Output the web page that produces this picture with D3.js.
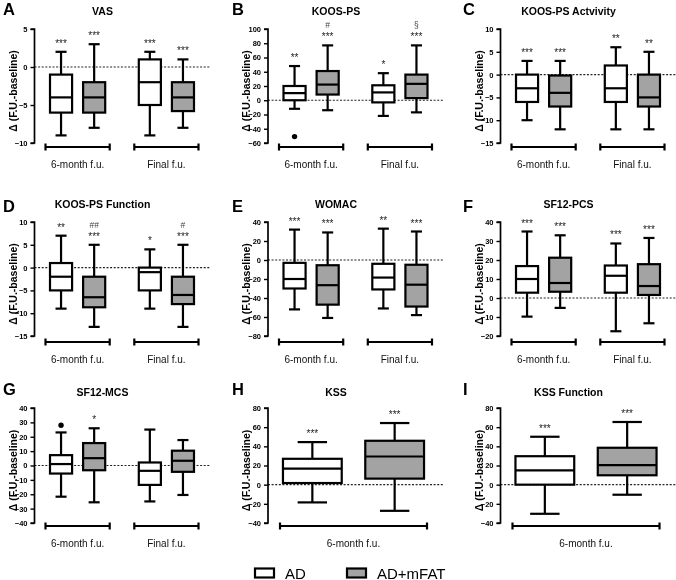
<!DOCTYPE html>
<html>
<head>
<meta charset="utf-8">
<script src="https://cdnjs.cloudflare.com/ajax/libs/d3/7.8.5/d3.min.js"></script>
<style>
  html, body { margin: 0; padding: 0; background: #fff; }
  svg { display: block; font-family: "Liberation Sans", Arial, sans-serif; filter: grayscale(1); }
</style>
</head>
<body>
<svg id="chart" width="676" height="580"></svg>
<script>
// ---------------- DATA ----------------
const series = ["AD", "AD+mFAT"];
const groupsTwo = ["6-month f.u.", "Final f.u."];
const groupsOne = ["6-month f.u."];
// box order: [6m AD, 6m AD+mFAT, Final AD, Final AD+mFAT]; each [min, q1, median, q3, max]

const vasTicks = [5, 0, -5, -10];
const vasBoxes = [[-9, -6, -4, -1, 2], [-8, -6, -4, -2, 3], [-9, -5, -2, 1, 2], [-8, -5.8, -4, -2, 1]];
const vasStars = ["***", "***", "***", "***"];
const vasMarks = ["", "", "", ""];
const vasOutliers = [null, null, null, null];

const koosPsTicks = [100, 80, 60, 40, 20, 0, -20, -40, -60];
const koosPsBoxes = [[-12, 0, 10, 20, 48], [-14, 8, 22, 41, 77], [-22, -3, 11, 21, 38], [-17, 3, 23, 36, 77]];
const koosPsStars = ["**", "***", "*", "***"];
const koosPsMarks = ["", "#", "", "§"];
const koosPsOutliers = [-51, null, null, null];

const koosActTicks = [10, 5, 0, -5, -10, -15];
const koosActBoxes = [[-10, -6, -3, 0, 3], [-12, -7, -4, -0.2, 3], [-12, -6, -3, 2, 6], [-12, -7, -5, 0, 5]];
const koosActStars = ["***", "***", "**", "**"];
const koosActMarks = ["", "", "", ""];
const koosActOutliers = [null, null, null, null];

const koosFunTicks = [10, 5, 0, -5, -10, -15];
const koosFunBoxes = [[-9, -5, -2, 1, 7], [-13, -8.7, -6.5, -2, 5], [-9, -5, -1, 0, 4], [-13, -8, -6, -2, 5]];
const koosFunStars = ["**", "***", "*", "***"];
const koosFunMarks = ["", "##", "", "#"];
const koosFunOutliers = [null, null, null, null];

const womacTicks = [40, 20, 0, -20, -40, -60, -80];
const womacBoxes = [[-52, -30, -20, -3, 32], [-61, -47, -26.5, -5.5, 29], [-51, -31, -18.5, -4, 33], [-58, -49, -26, -5, 30]];
const womacStars = ["***", "***", "**", "***"];
const womacMarks = ["", "", "", ""];
const womacOutliers = [null, null, null, null];

const pcsTicks = [40, 30, 20, 10, 0, -10, -20];
const pcsBoxes = [[-9.8, 2.8, 10, 16.8, 35], [-5.2, 3.3, 7.9, 21.2, 33], [-17.5, 2.8, 11.7, 17.1, 28.7], [-13.3, 1.6, 6.3, 17.8, 31.6]];
const pcsStars = ["***", "***", "***", "***"];
const pcsMarks = ["", "", "", ""];
const pcsOutliers = [null, null, null, null];

const mcsTicks = [40, 30, 20, 10, 0, -10, -20, -30, -40];
const mcsBoxes = [[-21.7, -5.6, 1, 7.2, 23], [-25.6, -3.3, 5.1, 15.6, 25.9], [-25, -13.5, -3.7, 2.1, 25], [-20.5, -4.4, 3.3, 10.3, 17.7]];
const mcsStars = ["", "*", "", ""];
const mcsMarks = ["", "", "", ""];
const mcsOutliers = [28, null, null, null];

const kssTicks = [80, 60, 40, 20, 0, -20, -40];
const kssBoxes = [[-18.5, 1.7, 16.8, 27, 44.4], [-27.3, 6.3, 29.4, 45.8, 64.3]];
const kssStars = ["***", "***"];
const kssMarks = ["", ""];
const kssOutliers = [null, null];

const kssFunTicks = [80, 60, 40, 20, 0, -20, -40];
const kssFunBoxes = [[-30.4, 0, 15, 29.7, 50], [-10.5, 9.8, 20.3, 38.5, 65.4]];
const kssFunStars = ["***", "***"];
const kssFunMarks = ["", ""];
const kssFunOutliers = [null, null];

const letters = ["A", "B", "C", "D", "E", "F", "G", "H", "I"];
const titles = ["VAS", "KOOS-PS", "KOOS-PS Actvivity", "KOOS-PS Function", "WOMAC", "SF12-PCS", "SF12-MCS", "KSS", "KSS Function"];
const yLabel = "Δ (F.U.-baseline)";

// ---------------- LAYOUT ----------------
const panels = [
  { boxes: vasBoxes, ticks: vasTicks, stars: vasStars, marks: vasMarks, outliers: vasOutliers, groups: groupsTwo },
  { boxes: koosPsBoxes, ticks: koosPsTicks, stars: koosPsStars, marks: koosPsMarks, outliers: koosPsOutliers, groups: groupsTwo },
  { boxes: koosActBoxes, ticks: koosActTicks, stars: koosActStars, marks: koosActMarks, outliers: koosActOutliers, groups: groupsTwo },
  { boxes: koosFunBoxes, ticks: koosFunTicks, stars: koosFunStars, marks: koosFunMarks, outliers: koosFunOutliers, groups: groupsTwo },
  { boxes: womacBoxes, ticks: womacTicks, stars: womacStars, marks: womacMarks, outliers: womacOutliers, groups: groupsTwo },
  { boxes: pcsBoxes, ticks: pcsTicks, stars: pcsStars, marks: pcsMarks, outliers: pcsOutliers, groups: groupsTwo },
  { boxes: mcsBoxes, ticks: mcsTicks, stars: mcsStars, marks: mcsMarks, outliers: mcsOutliers, groups: groupsTwo },
  { boxes: kssBoxes, ticks: kssTicks, stars: kssStars, marks: kssMarks, outliers: kssOutliers, groups: groupsOne },
  { boxes: kssFunBoxes, ticks: kssFunTicks, stars: kssFunStars, marks: kssFunMarks, outliers: kssFunOutliers, groups: groupsOne }
];

const colAxisX = [34.5, 268, 500.5];
const colLetterX = [3, 232, 463];
const rowY = [[29, 143], [222, 336], [408, 523]];
const rowBracketY = [147, 342, 526];
const rowTitleY = [15, 208, 396];
const rowLetterY = [15, 212, 395];
const GRAY = "#a3a3a3";
const INK = "#000";

const svg = d3.select("#chart");

panels.forEach((p, i) => {
  const col = i % 3, row = Math.floor(i / 3);
  const ax = colAxisX[col];
  const [yTop, yBot] = rowY[row];
  const g = svg.append("g");

  const y = d3.scaleLinear().domain([d3.min(p.ticks), d3.max(p.ticks)]).range([yBot, yTop]);

  const two = p.groups.length === 2;
  const xg = d3.scaleBand().domain(p.groups)
    .range(two ? [ax + 11, ax + 164] : [ax + 12, ax + 159])
    .paddingInner(two ? 0.277 : 0).paddingOuter(0);
  const xs = d3.scaleBand().domain(series).range([0, xg.bandwidth()])
    .paddingInner(two ? 0.333 : 0.286).paddingOuter(two ? 0.136 : 0.036);

  // zero line (behind boxes)
  g.append("line")
    .attr("x1", ax).attr("x2", ax + 175)
    .attr("y1", y(0)).attr("y2", y(0))
    .attr("stroke", "#222").attr("stroke-width", 1.1).attr("stroke-dasharray", "2,1.6");

  // y axis
  const axis = d3.axisLeft(y).tickValues(p.ticks).tickSize(4).tickPadding(3).tickFormat(d3.format("d"));
  const axG = g.append("g").attr("transform", `translate(${ax},0)`).call(axis);
  axG.select(".domain").attr("stroke", INK).attr("stroke-width", 1.7).attr("d", `M-4,${yTop}H0V${yBot}H-4`);
  axG.selectAll(".tick line").attr("stroke", INK).attr("stroke-width", 1.4);
  axG.selectAll(".tick text").attr("font-size", 7.5).attr("font-weight", "bold").attr("fill", INK)
    .attr("font-family", "'Liberation Sans', Arial, sans-serif");

  // y label
  g.append("text")
    .attr("transform", `translate(${ax - 18},${(yTop + yBot) / 2 + 5}) rotate(-90)`)
    .attr("text-anchor", "middle")
    .attr("font-size", 10.5).attr("font-weight", "bold").attr("fill", INK)
    .text(yLabel);

  // title & letter
  g.append("text").attr("x", ax + 68).attr("y", rowTitleY[row])
    .attr("text-anchor", "middle").attr("font-size", 10.5).attr("font-weight", "bold").attr("fill", INK)
    .text(titles[i]);
  g.append("text").attr("x", colLetterX[col]).attr("y", rowLetterY[row])
    .attr("font-size", 16.5).attr("font-weight", "bold").attr("fill", INK)
    .text(letters[i]);

  // boxes
  const items = [];
  p.groups.forEach((grp, gi) => {
    series.forEach((s, si) => {
      const k = gi * 2 + si;
      items.push({ grp, s, si, stats: p.boxes[k], star: p.stars[k], mark: p.marks[k], out: p.outliers[k] });
    });
  });

  items.forEach(d => {
    const x0 = xg(d.grp) + xs(d.s);
    const bw = xs.bandwidth();
    const cx = x0 + bw / 2;
    const [mn, q1, md, q3, mx] = d.stats;
    const bg = g.append("g");
    // whiskers
    bg.append("line").attr("x1", cx).attr("x2", cx).attr("y1", y(mx)).attr("y2", y(q3))
      .attr("stroke", INK).attr("stroke-width", 2.2);
    bg.append("line").attr("x1", cx).attr("x2", cx).attr("y1", y(q1)).attr("y2", y(mn))
      .attr("stroke", INK).attr("stroke-width", 2.2);
    [mx, mn].forEach(v => {
      bg.append("line").attr("x1", cx - bw / 4).attr("x2", cx + bw / 4).attr("y1", y(v)).attr("y2", y(v))
        .attr("stroke", INK).attr("stroke-width", 2.2);
    });
    // box
    bg.append("rect").attr("x", x0).attr("y", y(q3)).attr("width", bw).attr("height", y(q1) - y(q3))
      .attr("fill", d.si === 0 ? "#fff" : GRAY).attr("stroke", INK).attr("stroke-width", 2.2);
    bg.append("line").attr("x1", x0).attr("x2", x0 + bw).attr("y1", y(md)).attr("y2", y(md))
      .attr("stroke", INK).attr("stroke-width", 2.2);
    // outlier
    if (d.out !== null) {
      bg.append("circle").attr("cx", cx).attr("cy", y(d.out)).attr("r", 2.7).attr("fill", INK);
    }
    // significance
    if (d.star) {
      bg.append("text").attr("x", cx).attr("y", y(mx) - 5).attr("text-anchor", "middle")
        .attr("font-size", 10).attr("fill", "#222").text(d.star);
    }
    if (d.mark) {
      bg.append("text").attr("x", cx).attr("y", y(mx) - 17).attr("text-anchor", "middle")
        .attr("font-size", 8.5).attr("fill", "#444").text(d.mark);
    }
  });

  // group brackets
  const by = rowBracketY[row];
  p.groups.forEach(grp => {
    const a = xg(grp), b = xg(grp) + xg.bandwidth();
    g.append("line").attr("x1", a).attr("x2", b).attr("y1", by).attr("y2", by)
      .attr("stroke", INK).attr("stroke-width", 2.2);
    [a, b].forEach(xx => g.append("line").attr("x1", xx).attr("x2", xx).attr("y1", by - 3.5).attr("y2", by + 3.5)
      .attr("stroke", INK).attr("stroke-width", 2.2));
    g.append("text").attr("x", (a + b) / 2).attr("y", by + 21).attr("text-anchor", "middle")
      .attr("font-size", 10).attr("fill", "#111").text(grp);
  });
});

// legend
const legend = svg.append("g");
const legX = [255, 347];
series.forEach((s, i) => {
  legend.append("rect").attr("x", legX[i]).attr("y", 568.5).attr("width", 19).attr("height", 9)
    .attr("fill", i === 0 ? "#fff" : GRAY).attr("stroke", INK).attr("stroke-width", 2.2);
  legend.append("text").attr("x", legX[i] + 30).attr("y", 578.5)
    .attr("font-size", 15).attr("fill", INK).text(s);
});
</script>
</body>
</html>
